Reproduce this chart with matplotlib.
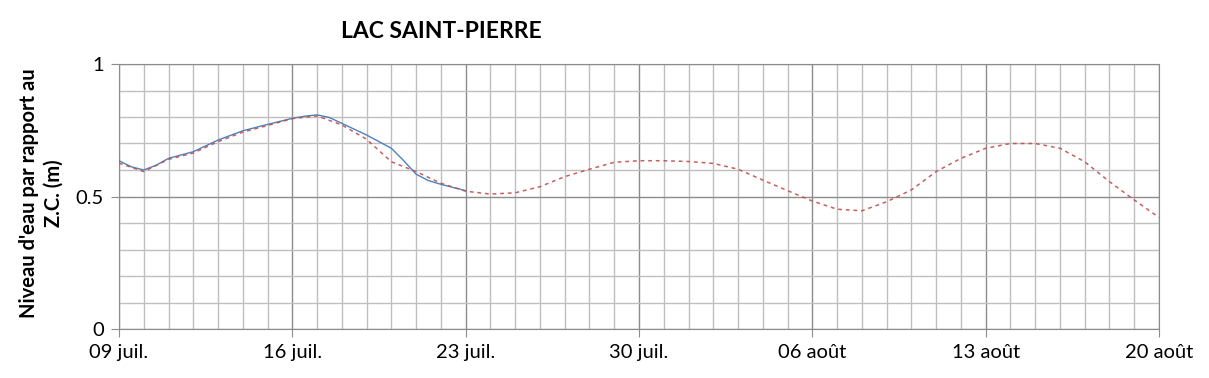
import matplotlib
matplotlib.use("Agg")
import matplotlib.pyplot as plt
from matplotlib.ticker import MultipleLocator

plt.rcParams['font.family'] = ['Lato', 'DejaVu Sans']

# day offsets from 09 juil.
tick_days = [0, 7, 14, 21, 28, 35, 42]
tick_labels = ['09 juil.', '16 juil.', '23 juil.', '30 juil.', '06 août', '13 août', '20 août']

# observed level (blue)
obs_days = [0, 0.5, 1, 1.5, 2, 3, 4, 5, 6, 7, 7.5, 8, 8.5, 9, 10, 11, 11.5, 12, 12.5, 13, 14]
obs_level = [0.635, 0.612, 0.600, 0.618, 0.644, 0.669, 0.713, 0.748, 0.772, 0.795, 0.803,
             0.808, 0.798, 0.776, 0.732, 0.682, 0.635, 0.584, 0.560, 0.546, 0.522]

# predicted level (red dashed)
pred_days = list(range(43))
pred_level = [0.626, 0.594, 0.640, 0.664, 0.707, 0.743, 0.768, 0.794, 0.804, 0.770,
              0.716, 0.631, 0.594, 0.550, 0.520, 0.509, 0.514, 0.537, 0.575, 0.603,
              0.629, 0.635, 0.635, 0.632, 0.625, 0.603, 0.562, 0.522, 0.483, 0.452,
              0.446, 0.480, 0.525, 0.594, 0.644, 0.682, 0.700, 0.700, 0.682, 0.631,
              0.556, 0.487, 0.421]

fig = plt.figure(figsize=(12.09, 3.78), dpi=100)
ax = fig.add_axes([119/1209, 49/378, 1040/1209, 265/378])

ax.plot(obs_days, obs_level, color='#4F81BD', lw=1.0, zorder=3)
ax.plot(pred_days, pred_level, color='#C0504D', lw=1.1, ls=(0, (2.5, 2.5)), alpha=0.9, zorder=4)

ax.set_xlim(0, 42)
ax.set_ylim(0, 1)

# grid: minor every day / 0.1, major every week / 0.5
ax.xaxis.set_minor_locator(MultipleLocator(1))
ax.yaxis.set_minor_locator(MultipleLocator(0.1))
ax.set_xticks(tick_days)
ax.set_xticklabels(tick_labels)
ax.set_yticks([0, 0.5, 1])
ax.set_yticklabels(['0', '0.5', '1'])
ax.grid(which='minor', color='#BFBFBF', lw=1.0)
ax.grid(which='major', color='#8C8C8C', lw=1.0)
ax.set_axisbelow(True)

ax.tick_params(which='major', direction='out', length=6, color='#8C8C8C',
               labelsize=14.5, pad=5)
ax.tick_params(which='minor', length=0)
for s in ax.spines.values():
    s.set_color('#8C8C8C')

fig.text(441/1209, 1 - 32/378, 'LAC SAINT-PIERRE', ha='center', va='center',
         fontsize=16.5, fontweight='bold')
fig.text(41/1209, 1 - 193/378, "Niveau d'eau par rapport au\nZ.C. (m)", rotation=90,
         ha='center', va='center', fontsize=14.5, fontweight='bold', linespacing=1.3)

fig.savefig('out.png', dpi=100)
